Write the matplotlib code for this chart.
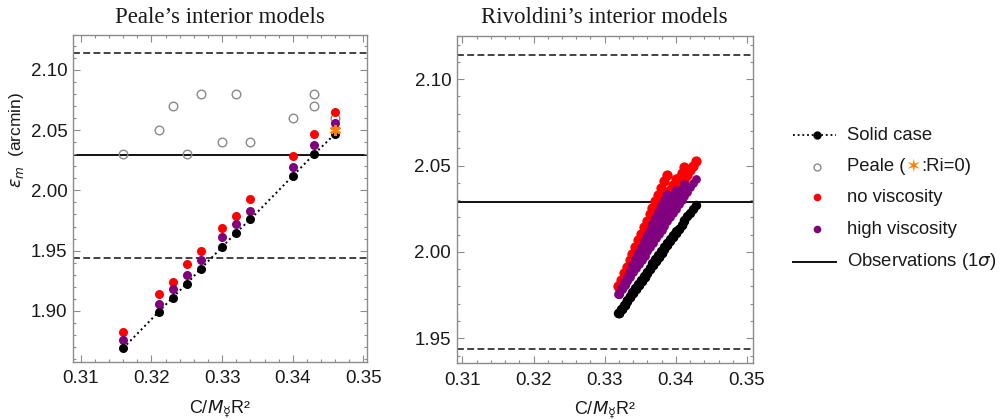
import matplotlib
matplotlib.use("Agg")
import matplotlib.pyplot as plt
from matplotlib.ticker import MultipleLocator, FormatStrFormatter

plt.rcParams["font.family"] = ["Liberation Sans", "DejaVu Sans"]
plt.rcParams["mathtext.fontset"] = "dejavusans"

# ---------------- Observation ----------------
obs_eps = 2.029
obs_sigma = 0.085

# ---------------- Peale's interior models ----------------
peale_c = [0.316, 0.321, 0.323, 0.325, 0.327, 0.330, 0.332, 0.334, 0.340, 0.343, 0.346]
peale_solid = [1.869, 1.899, 1.911, 1.9225, 1.935, 1.953, 1.965, 1.976, 2.012, 2.030, 2.047]
peale_highvisc = [1.876, 1.906, 1.918, 1.930, 1.9425, 1.961, 1.972, 1.983, 2.019, 2.0375, 2.056]
peale_novisc = [1.882, 1.914, 1.924, 1.939, 1.950, 1.969, 1.9786, 1.9925, 2.0286, 2.047, 2.065]

peale_orig_c = [0.316, 0.321, 0.323, 0.325, 0.327, 0.330, 0.332, 0.334, 0.340, 0.343, 0.343, 0.346]
peale_orig_eps = [2.03, 2.05, 2.07, 2.03, 2.08, 2.04, 2.08, 2.04, 2.06, 2.08, 2.07, 2.06]

ri0_c = [0.346]
ri0_eps = [2.05]

# ---------------- Rivoldini's interior models ----------------
riv_c_1 = [0.3319, 0.3323, 0.3327, 0.3331, 0.3335, 0.3339, 0.3343, 0.3347, 0.3351,
           0.3355, 0.3359, 0.3363, 0.3367, 0.3371, 0.3375, 0.3379, 0.3383, 0.3387]
riv_solid_1 = [1.9645, 1.9669, 1.9693, 1.9717, 1.9741, 1.9765, 1.9789, 1.9813, 1.9837,
               1.9861, 1.9885, 1.9909, 1.9933, 1.9957, 1.9981, 2.0005, 2.0029, 2.0053]
riv_high_1 = [1.9755, 1.9789, 1.9823, 1.9857, 1.9891, 1.9925, 1.9959, 1.9993, 2.0027,
              2.0061, 2.0095, 2.0129, 2.0163, 2.0197, 2.0231, 2.0265, 2.0299, 2.0333]
riv_novisc_1 = [1.9800, 1.9838, 1.9876, 1.9914, 1.9952, 1.9990, 2.0028, 2.0066, 2.0104,
                2.0142, 2.0180, 2.0218, 2.0256, 2.0294, 2.0332, 2.0370, 2.0408, 2.0446]

riv_c_2 = [0.3320, 0.3324, 0.3328, 0.3332, 0.3336, 0.3340, 0.3344, 0.3348, 0.3352, 0.3356,
           0.3360, 0.3364, 0.3368, 0.3372, 0.3376, 0.3380, 0.3384, 0.3388, 0.3392, 0.3396, 0.3400]
riv_solid_2 = [1.9648, 1.9672, 1.9695, 1.9719, 1.9742, 1.9766, 1.9790, 1.9813, 1.9837, 1.9860,
               1.9884, 1.9908, 1.9931, 1.9955, 1.9978, 2.0002, 2.0026, 2.0049, 2.0073, 2.0096, 2.0120]
riv_high_2 = [1.9760, 1.9790, 1.9820, 1.9850, 1.9880, 1.9910, 1.9940, 1.9970, 2.0000, 2.0030,
              2.0060, 2.0090, 2.0120, 2.0150, 2.0180, 2.0210, 2.0240, 2.0270, 2.0300, 2.0330, 2.0360]
riv_novisc_2 = [1.9800, 1.9831, 1.9862, 1.9893, 1.9924, 1.9955, 1.9986, 2.0017, 2.0048, 2.0079,
                2.0110, 2.0141, 2.0172, 2.0203, 2.0234, 2.0265, 2.0296, 2.0327, 2.0358, 2.0389, 2.0420]

riv_c_3 = [0.3320, 0.3324, 0.3328, 0.3332, 0.3336, 0.3340, 0.3344, 0.3348, 0.3352, 0.3356,
           0.3360, 0.3364, 0.3368, 0.3372, 0.3376, 0.3380, 0.3384, 0.3388, 0.3392, 0.3396,
           0.3400, 0.3404, 0.3408, 0.3412]
riv_solid_3 = [1.9645, 1.9668, 1.9691, 1.9715, 1.9738, 1.9761, 1.9784, 1.9807, 1.9831, 1.9854,
               1.9877, 1.9900, 1.9923, 1.9947, 1.9970, 1.9993, 2.0016, 2.0039, 2.0063, 2.0086,
               2.0109, 2.0132, 2.0155, 2.0179]
riv_high_3 = [1.9755, 1.9783, 1.9811, 1.9838, 1.9866, 1.9894, 1.9922, 1.9950, 1.9978, 2.0005,
              2.0033, 2.0061, 2.0089, 2.0117, 2.0144, 2.0172, 2.0200, 2.0228, 2.0256, 2.0284,
              2.0311, 2.0339, 2.0367, 2.0395]
riv_novisc_3 = [1.9795, 1.9825, 1.9855, 1.9886, 1.9916, 1.9946, 1.9976, 2.0006, 2.0037, 2.0067,
                2.0097, 2.0127, 2.0157, 2.0188, 2.0218, 2.0248, 2.0278, 2.0308, 2.0339, 2.0369,
                2.0399, 2.0429, 2.0459, 2.0490]

riv_c_4 = [0.3320, 0.3324, 0.3328, 0.3332, 0.3336, 0.3340, 0.3344, 0.3348, 0.3352, 0.3356,
           0.3360, 0.3364, 0.3368, 0.3372, 0.3376, 0.3380, 0.3384, 0.3388, 0.3392, 0.3396,
           0.3400, 0.3404, 0.3408, 0.3412, 0.3416, 0.3420, 0.3424, 0.3428]
riv_solid_4 = [1.9648, 1.9671, 1.9694, 1.9718, 1.9741, 1.9764, 1.9787, 1.9810, 1.9834, 1.9857,
               1.9880, 1.9903, 1.9926, 1.9950, 1.9973, 1.9996, 2.0019, 2.0042, 2.0066, 2.0089,
               2.0112, 2.0135, 2.0158, 2.0182, 2.0205, 2.0228, 2.0251, 2.0274]
riv_high_4 = [1.9758, 1.9783, 1.9807, 1.9832, 1.9856, 1.9881, 1.9906, 1.9930, 1.9955, 1.9979,
              2.0004, 2.0029, 2.0053, 2.0078, 2.0102, 2.0127, 2.0152, 2.0176, 2.0201, 2.0225,
              2.0250, 2.0275, 2.0299, 2.0324, 2.0348, 2.0373, 2.0398, 2.0422]
riv_novisc_4 = [1.9800, 1.9827, 1.9854, 1.9881, 1.9908, 1.9934, 1.9961, 1.9988, 2.0015, 2.0042,
                2.0069, 2.0096, 2.0123, 2.0150, 2.0177, 2.0204, 2.0230, 2.0257, 2.0284, 2.0311,
                2.0338, 2.0365, 2.0392, 2.0419, 2.0446, 2.0473, 2.0499, 2.0526]

riv_c = riv_c_1 + riv_c_2 + riv_c_3 + riv_c_4
riv_solid = riv_solid_1 + riv_solid_2 + riv_solid_3 + riv_solid_4
riv_high = riv_high_1 + riv_high_2 + riv_high_3 + riv_high_4
riv_novisc = riv_novisc_1 + riv_novisc_2 + riv_novisc_3 + riv_novisc_4

# ---------------- Styles ----------------
RED = "#ff0000"
PURPLE = "#800080"
ORANGE = "#ff8000"
GRAY = "#8a8a8a"
FRAME = "#8c8c8c"
TXT = "#1a1a1a"
MS = 6.2

W, H = 1007, 419
fig = plt.figure(figsize=(W / 100, H / 100), dpi=100)


def px_rect(l, t, r, b):
    return [l / W, 1 - b / H, (r - l) / W, (b - t) / H]


def style_axes(ax, xlim, ylim, title):
    ax.set_xlim(*xlim)
    ax.set_ylim(*ylim)
    ax.xaxis.set_major_locator(MultipleLocator(0.01))
    ax.xaxis.set_minor_locator(MultipleLocator(0.002))
    ax.yaxis.set_major_locator(MultipleLocator(0.05))
    ax.yaxis.set_minor_locator(MultipleLocator(0.01))
    ax.xaxis.set_major_formatter(FormatStrFormatter("%.2f"))
    ax.yaxis.set_major_formatter(FormatStrFormatter("%.2f"))
    ax.tick_params(which="both", direction="in", top=True, right=True,
                   color=FRAME, width=0.8, labelcolor=TXT, labelsize=13.5)
    ax.tick_params(which="major", length=5)
    ax.tick_params(which="minor", length=2.5)
    ax.tick_params(axis="x", which="major", pad=6)
    ax.tick_params(axis="y", which="major", pad=4)
    for s in ax.spines.values():
        s.set_color(FRAME)
        s.set_linewidth(1.0)
    ax.set_title(title, fontfamily="Liberation Serif", fontsize=16.5, pad=9, color=TXT)
    ax.set_xlabel("C/$M_{☿}$R²", fontsize=13, color=TXT, labelpad=8)
    # observation and its 1-sigma bounds
    ax.axhline(obs_eps, color="#111111", lw=1.4, zorder=1)
    ax.axhline(obs_eps + obs_sigma, color="#111111", lw=1.1, ls=(0, (4.5, 2.2)), zorder=1)
    ax.axhline(obs_eps - obs_sigma, color="#111111", lw=1.1, ls=(0, (4.5, 2.2)), zorder=1)


axL = fig.add_axes(px_rect(73, 35, 367, 362))
axR = fig.add_axes(px_rect(456.7, 36, 752.7, 363.3))

style_axes(axL, (0.3089, 0.3505), (1.8575, 2.129), "Peale’s interior models")
style_axes(axR, (0.3092, 0.3508), (1.9355, 2.125), "Rivoldini’s interior models")

# Peale panel
axL.plot(peale_c, peale_solid, ls=(0, (1, 1.6)), color="k", lw=1.4, zorder=2)
axL.plot(peale_orig_c, peale_orig_eps, "o", mfc="none", mec=GRAY, mew=1.0, ms=MS, zorder=3)
axL.plot(peale_c, peale_novisc, "o", color=RED, mec="none", ms=MS + 0.3, zorder=4)
axL.plot(peale_c, peale_highvisc, "o", color=PURPLE, mec="none", ms=MS + 0.3, zorder=5)
axL.plot(peale_c, peale_solid, "o", color="k", mec="none", ms=MS + 0.3, zorder=6)
axL.plot(ri0_c, ri0_eps, marker=(6, 2, 0), ls="none", color=ORANGE, mec=ORANGE,
         mew=1.6, ms=8, zorder=7)

# Rivoldini panel
axR.plot(riv_c, riv_novisc, "o", color=RED, mec="none", ms=7.4, zorder=4)
axR.plot(riv_c, riv_high, "o", color=PURPLE, mec="none", ms=6.3, zorder=5)
axR.plot(riv_c, riv_solid, "o", color="k", mec="none", ms=6.8, zorder=6)

# y label
fig.text(17 / W, 1 - 140 / H, r"$\varepsilon_m$  (arcmin)", rotation=90,
         ha="center", va="center", fontsize=12.5, color=TXT)

# ---------------- Legend ----------------
lax = fig.add_axes([0, 0, 1, 1])
lax.set_xlim(0, W)
lax.set_ylim(H, 0)
lax.axis("off")

hx0, hx1, hxc, tx = 793, 836, 816.7, 847
rows = [135, 166.7, 197.3, 229.3, 261.7]
LFS = 13.3

lax.plot([hx0, hx1], [rows[0]] * 2, ls=(0, (1, 1.6)), color="k", lw=1.3)
lax.plot([hxc], [rows[0]], "o", color="k", ms=5)
lax.text(tx, rows[0], "Solid case", fontsize=LFS, va="center", ha="left", color=TXT)

lax.plot([hxc], [rows[1]], "o", mfc="none", mec=GRAY, mew=1.0, ms=5)
t1 = lax.text(tx, rows[1], "Peale (", fontsize=LFS, va="center", ha="left", color=TXT)
t2 = lax.annotate("✶", xy=(1, 0.5), xycoords=t1, va="center", ha="left",
                  fontsize=LFS, color=ORANGE, family=["DejaVu Sans"])
lax.annotate(":Ri=0)", xy=(1, 0.5), xycoords=t2, va="center", ha="left",
             fontsize=LFS, color=TXT)

lax.plot([hxc], [rows[2]], "o", color=RED, mec="none", ms=5.5)
lax.text(tx, rows[2], "no viscosity", fontsize=LFS, va="center", ha="left", color=TXT)

lax.plot([hxc], [rows[3]], "o", color=PURPLE, mec="none", ms=5.5)
lax.text(tx, rows[3], "high viscosity", fontsize=LFS, va="center", ha="left", color=TXT)

lax.plot([hx0, hx1], [rows[4]] * 2, color="#111111", lw=1.4)
lax.text(tx, rows[4], r"Observations (1$\sigma$)", fontsize=LFS, va="center", ha="left", color=TXT)

fig.savefig("out.png", dpi=100)
